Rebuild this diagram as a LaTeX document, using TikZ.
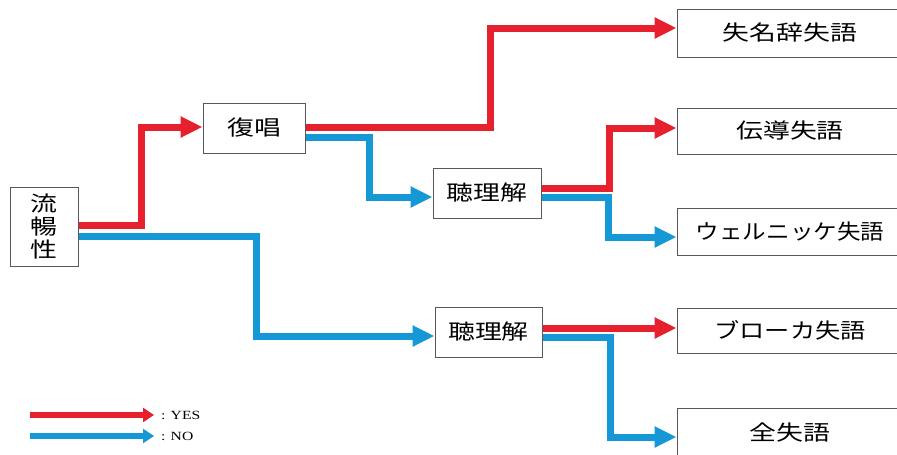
\documentclass[tikz,border=0pt]{standalone}
\usepackage{fontspec}
\usepackage{graphicx}
\setmainfont{Liberation Serif}
\newfontfamily\jp{Noto Sans CJK JP}
\usetikzlibrary{arrows.meta}
\definecolor{yesred}{RGB}{230,32,44}
\definecolor{noblue}{RGB}{22,152,214}
\newcommand{\jt}[2][1.28]{\scalebox{#1}[1]{\jp #2}}
\tikzset{
  box/.style={draw=black!65, line width=1pt, fill=white, inner sep=0pt, align=center,
    font=\fontsize{21}{23}\selectfont},
  yes/.style={draw=yesred, line width=7pt, -{Triangle[length=22pt,width=20pt]}},
  no/.style={draw=noblue, line width=7pt, -{Triangle[length=22pt,width=20pt]}},
  lyes/.style={draw=yesred, line width=5.5pt, -{Triangle[length=11pt,width=14pt]}},
  lno/.style={draw=noblue, line width=5.5pt, -{Triangle[length=11pt,width=14pt]}},
  lab/.style={anchor=west, inner sep=0pt, font=\fontsize{12.5}{14}\selectfont}
}
\begin{document}
\begin{tikzpicture}[x=1pt,y=-1pt]
\useasboundingbox (0,0) rectangle (897,455);
\clip (0,0) rectangle (897,455);
\fill[white] (0,0) rectangle (897,455);
% nodes
\node[box, minimum width=68pt, minimum height=79pt] (flu) at (44,226.5)
  {\jt{流}\\[0pt]\jt{暢}\\[0pt]\jt{性}};
\node[box, minimum width=102pt, minimum height=50pt] (rep) at (254,128) {\jt{復唱}};
\node[box, minimum width=108pt, minimum height=50pt] (hu) at (487,193) {\jt{聴理解}};
\node[box, minimum width=107pt, minimum height=50pt] (hl) at (488.5,332) {\jt{聴理解}};
\node[box, minimum width=226pt, minimum height=48pt] (anom) at (790,33) {\jt{失名辞失語}};
\node[box, minimum width=226pt, minimum height=46pt] (cond) at (790,131) {\jt{伝導失語}};
\node[box, minimum width=226pt, minimum height=47pt] (wern) at (790,231.5) {\jt[1.12]{ウェルニッケ失語}};
\node[box, minimum width=226pt, minimum height=45pt] (broca) at (790,330.5) {\jt[1.2]{ブローカ失語}};
\node[box, minimum width=226pt, minimum height=50pt] (glob) at (790,433) {\jt{全失語}};
% connectors
\draw[yes] (flu.east |- 0,225) -- (141,225) |- (rep.west |- 0,127);
\draw[no] (flu.east |- 0,236) -- (256,236) |- (hl.west |- 0,336);
\draw[yes] (rep.east |- 0,127) -- (490,127) |- (anom.west |- 0,28);
\draw[no] (rep.east |- 0,137) -- (369,137) |- (hu.west |- 0,197);
\draw[yes] (hu.east |- 0,188) -- (609,188) |- (cond.west |- 0,128);
\draw[no] (hu.east |- 0,197) -- (608,197) |- (wern.west |- 0,237);
\draw[yes] (hl.east |- 0,328) -- (broca.west |- 0,328);
\draw[no] (hl.east |- 0,337) -- (610,337) |- (glob.west |- 0,437);
% legend
\coordinate (ly) at (30,415);
\coordinate (ln) at (30,436);
\node[lab] (tyes) at (161,415) {\scalebox{1.25}[1]{: YES}};
\node[lab] (tno) at (161,436) {\scalebox{1.25}[1]{: NO}};
\draw[lyes] (ly) -- ([xshift=-7pt]tyes.west);
\draw[lno] (ln) -- ([xshift=-7pt]tno.west);
\end{tikzpicture}
\end{document}
